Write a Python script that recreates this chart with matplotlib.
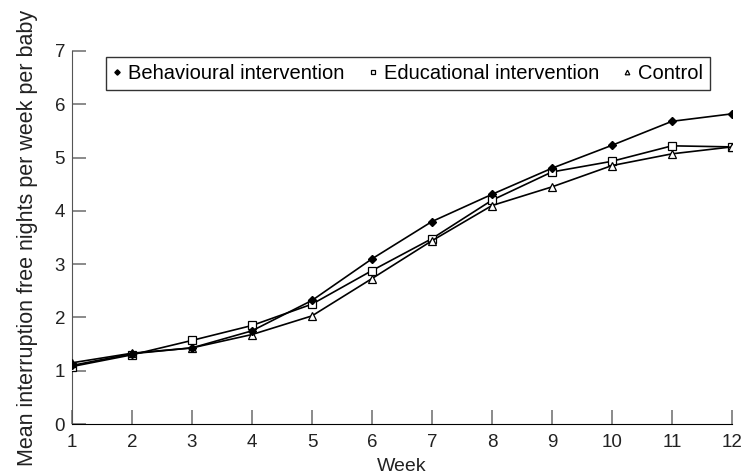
import matplotlib
matplotlib.use("Agg")
import matplotlib.pyplot as plt

# дані
weeks = [1, 2, 3, 4, 5, 6, 7, 8, 9, 10, 11, 12]
behavioural = [1.10, 1.32, 1.43, 1.75, 2.32, 3.10, 3.80, 4.31, 4.80, 5.23, 5.68, 5.82]
educational = [1.08, 1.30, 1.57, 1.85, 2.25, 2.88, 3.48, 4.20, 4.73, 4.93, 5.22, 5.20]
control = [1.15, 1.33, 1.43, 1.68, 2.03, 2.73, 3.44, 4.10, 4.45, 4.85, 5.07, 5.20]

plt.rcParams['font.family'] = ['Liberation Sans', 'DejaVu Sans']

fig = plt.figure(figsize=(7.42, 4.76), dpi=100)
ax = fig.add_axes([0.097, 0.109, 0.8895, 0.784])

ax.plot(weeks, behavioural, color='black', lw=1.2, marker='D', ms=4.5,
        mfc='black', mec='black', label='Behavioural intervention', zorder=4)
ax.plot(weeks, educational, color='black', lw=1.2, marker='s', ms=5.5,
        mfc='white', mec='black', mew=0.9, label='Educational intervention', zorder=3)
ax.plot(weeks, control, color='black', lw=1.2, marker='^', ms=5.5,
        mfc='white', mec='black', mew=0.9, label='Control', zorder=3)

ax.set_xlim(1, 12)
ax.set_ylim(0, 7)
ax.set_xticks(weeks)
ax.set_yticks(range(0, 8))
ax.spines['top'].set_visible(False)
ax.spines['right'].set_visible(False)
ax.spines['left'].set_color('#555555')
ax.spines['bottom'].set_color('black')
ax.tick_params(direction='in', length=10, width=1.2, color='#777777',
               labelsize=13.5, labelcolor='#222222', pad=5)
ax.tick_params(axis='x', pad=7)

ax.set_xlabel('Week', fontsize=14, color='#222222', labelpad=5)
ax.set_ylabel('Mean interruption free nights per week per baby', fontsize=15.5,
              color='#222222', labelpad=12)

leg = ax.legend(loc='upper left', bbox_to_anchor=(0.0515, 0.984), ncol=3,
                fontsize=14.5, frameon=True, fancybox=False, edgecolor='black',
                handlelength=0.4, handletextpad=0.35, columnspacing=1.2,
                borderpad=0.35, borderaxespad=0, markerscale=0.6)
leg.get_frame().set_linewidth(1.0)
for h in leg.legend_handles:
    h.set_linestyle('none')

fig.savefig('out.png', dpi=100)
